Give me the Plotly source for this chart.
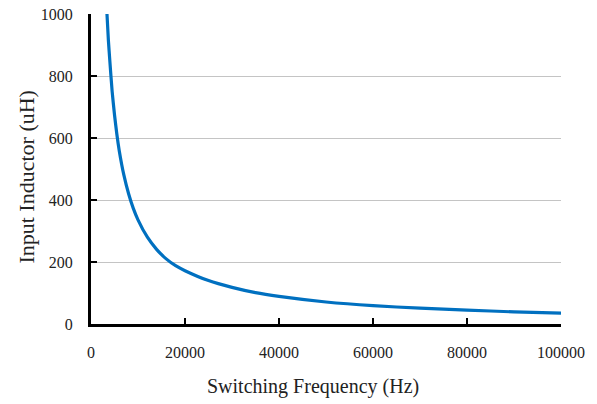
import plotly.graph_objects as go

freq_hz = [3400, 3700, 4000, 4500, 5000, 5500, 6000, 7000, 8000, 9000, 10000, 12000, 14000, 16000,
           18000, 20000, 25000, 30000, 35000, 40000, 50000, 60000, 70000, 80000, 90000, 100000]
inductor_uh = [1000, 915, 850, 750, 675, 612, 560, 480, 420, 373, 336, 280, 240, 210,
               188, 172, 140, 118, 101, 89, 71, 59, 51, 45, 39, 35]

x_ticks = [0, 20000, 40000, 60000, 80000, 100000]
y_ticks = [0, 200, 400, 600, 800, 1000]
grid_vals = [200, 400, 600, 800]
x_title = "Switching Frequency (Hz)"
y_title = "Input Inductor (uH)"

font_family = "Liberation Serif"
tfont = dict(family=font_family, size=16, color="#222222")

fig = go.Figure()
fig.add_trace(go.Scatter(x=[0], y=[0], yaxis="y2", mode="markers",
                         marker=dict(opacity=0), showlegend=False, hoverinfo="skip"))
fig.add_trace(go.Scatter(x=freq_hz, y=inductor_uh, mode="lines",
                         line=dict(color="#0070C0", width=3.2, shape="spline", smoothing=0.5),
                         showlegend=False))

fig.update_layout(
    width=597, height=404,
    margin=dict(l=91, r=36, t=14, b=80, autoexpand=False),
    paper_bgcolor="white", plot_bgcolor="white",
    font=dict(family=font_family, color="#222222", size=16),
    xaxis=dict(range=[0, 100000], tickvals=x_ticks, ticktext=[str(v) for v in x_ticks],
               showgrid=False, zeroline=False, showline=True, linecolor="black", linewidth=3,
               ticks="inside", ticklen=6, tickwidth=2, tickcolor="black", automargin=False,
               ticklabelstandoff=12, tickfont=tfont),
    yaxis=dict(range=[0, 1000], tickvals=y_ticks, ticktext=[str(v) for v in y_ticks],
               showgrid=False, zeroline=False, showline=True, linecolor="black", linewidth=3,
               ticks="inside", ticklen=6, tickwidth=2, tickcolor="black", automargin=False,
               ticklabelstandoff=12, tickfont=tfont),
    yaxis2=dict(range=[0, 1000], overlaying="y", tickvals=grid_vals, showgrid=True,
                gridcolor="#c4c4c4", gridwidth=1, showticklabels=False, zeroline=False,
                showline=False, ticks="", automargin=False, layer="below traces"),
    annotations=[
        dict(text=x_title, xref="paper", yref="paper", x=0.473, y=-0.2,
             xanchor="center", yanchor="middle", showarrow=False,
             font=dict(family=font_family, size=20, color="#222222")),
        dict(text=y_title, xref="paper", yref="paper", x=-0.138, y=0.476, textangle=-90,
             xanchor="center", yanchor="middle", showarrow=False,
             font=dict(family=font_family, size=22, color="#222222")),
    ],
)

fig.write_html("out.html", post_script="document.body.style.margin='0';",
               config={"displayModeBar": False})
